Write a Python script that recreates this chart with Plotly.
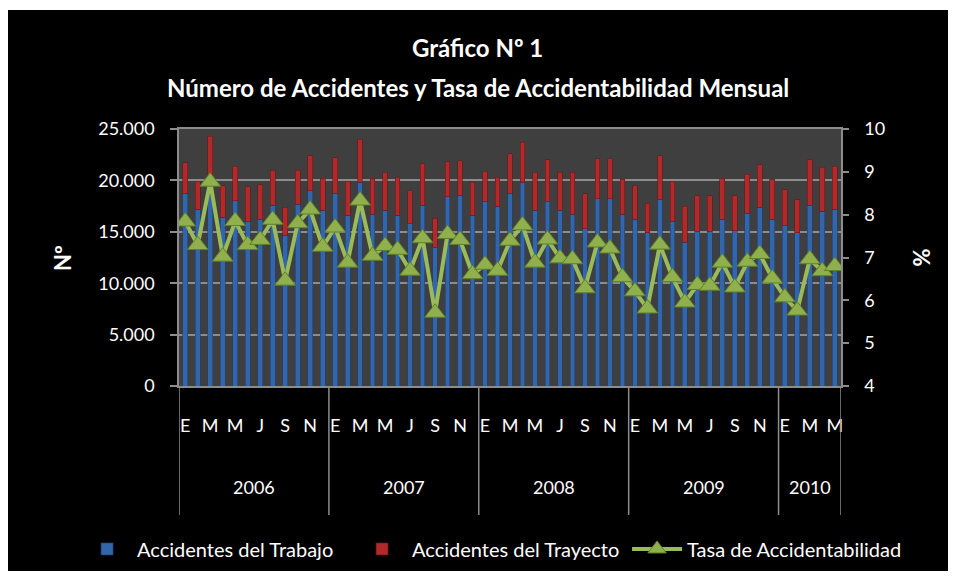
import plotly.graph_objects as go

# ---------------- data ----------------
years = ["2006", "2007", "2008", "2009", "2010"]
months_per_year = [12, 12, 12, 12, 5]
month_letters = ["E", "F", "M", "A", "M", "J", "J", "A", "S", "O", "N", "D"]

trabajo = [
    18700, 17200, 19900, 16400, 18000, 16000, 16200, 17600, 14600, 17700, 19000, 17100,  # 2006
    18700, 16600, 19800, 16700, 17100, 16600, 15800, 17600, 13500, 18400, 18500, 16600,  # 2007
    17900, 17500, 18700, 19800, 17100, 17900, 17100, 16700, 15300, 18200, 18200, 16700,  # 2008
    16200, 14900, 18100, 16000, 14000, 15000, 15000, 16200, 15100, 16800, 17400, 16200,  # 2009
    15600, 14900, 17600, 17000, 17200,                                                   # 2010
]
trayecto = [
    3000, 2700, 4400, 3100, 3400, 3400, 3400, 3400, 2800, 3300, 3400, 3100,
    3500, 3300, 4200, 3500, 3700, 3700, 3200, 4000, 2800, 3400, 3400, 3200,
    3000, 2800, 3900, 3900, 3700, 4100, 3700, 4100, 3400, 3900, 3900, 3400,
    3300, 2900, 4300, 3900, 3500, 3500, 3500, 4000, 3400, 3800, 4100, 3900,
    3500, 3200, 4400, 4300, 4200,
]
tasa = [
    7.84, 7.29, 8.77, 7.02, 7.85, 7.29, 7.41, 7.88, 6.46, 7.80, 8.12, 7.25,
    7.70, 6.88, 8.33, 7.04, 7.27, 7.18, 6.69, 7.45, 5.71, 7.55, 7.41, 6.61,
    6.83, 6.69, 7.39, 7.75, 6.88, 7.42, 6.98, 6.96, 6.28, 7.35, 7.21, 6.54,
    6.21, 5.81, 7.30, 6.54, 5.95, 6.36, 6.34, 6.88, 6.30, 6.90, 7.08, 6.51,
    6.07, 5.76, 6.96, 6.68, 6.80,
]

# ---------------- derived positions ----------------
idx = []
year_bounds = [-0.5]
year_centers = []
tickvals = []
ticktext = []
k = 0
for y, n in zip(years, months_per_year):
    start = k
    for m in range(n):
        idx.append(k)
        if m % 2 == 0:
            tickvals.append(k)
            ticktext.append(month_letters[m])
        k += 1
    year_bounds.append(k - 0.5)
    year_centers.append((start + k - 1) / 2)

FONT = "Lato"
WHITE = "#ffffff"
GRID = "#8c8c8c"

fig = go.Figure()
fig.add_trace(go.Bar(
    x=idx, y=trabajo, name="Accidentes del Trabajo",
    marker=dict(color="#3365ab", line=dict(color="#1f3f70", width=0.6)),
    yaxis="y",
))
fig.add_trace(go.Bar(
    x=idx, y=trayecto, name="Accidentes del Trayecto",
    marker=dict(color="#b0292b", line=dict(color="#6e1416", width=0.6)),
    yaxis="y",
))
fig.add_trace(go.Scatter(
    x=idx, y=tasa, name="Tasa de Accidentabilidad", mode="lines+markers",
    line=dict(color="#9bbb59", width=4),
    marker=dict(symbol="triangle-up", size=18, color="#8fb04c",
                line=dict(color="#5f7f2a", width=1)),
    yaxis="y2",
))

# background shapes (black chart area + grey plot area)
shapes = [
    dict(type="rect", xref="paper", yref="paper", x0=-0.27, x1=1.18, y0=-0.80, y1=1.463,
         fillcolor="#000000", line=dict(width=0), layer="below"),
    dict(type="rect", xref="paper", yref="paper", x0=0, x1=1, y0=0, y1=1,
         fillcolor="#3f3f3f", line=dict(width=0), layer="below"),
]
for b in year_bounds:
    shapes.append(dict(type="line", xref="x", yref="paper", x0=b, x1=b, y0=0, y1=-0.502,
                       line=dict(color=GRID, width=1.5)))

annotations = [
    dict(text="<b>Gráfico Nº 1</b>", xref="paper", yref="paper", x=0.451, y=1.319,
         showarrow=False, font=dict(family=FONT, size=24, color=WHITE), yanchor="middle"),
    dict(text="<b>Número de Accidentes y Tasa de Accidentabilidad Mensual</b>", xref="paper", yref="paper",
         x=0.451, y=1.163, showarrow=False, font=dict(family=FONT, size=24, color=WHITE), yanchor="middle"),
    dict(text="<b>Nº</b>", xref="paper", yref="paper", x=-0.176, y=0.5, textangle=-90,
         xanchor="center", yanchor="middle",
         showarrow=False, font=dict(family=FONT, size=22, color=WHITE)),
    dict(text="<b>%</b>", xref="paper", yref="paper", x=1.121, y=0.5, textangle=-90,
         xanchor="center", yanchor="middle",
         showarrow=False, font=dict(family=FONT, size=22, color=WHITE)),
]
for y, c in zip(years, year_centers):
    annotations.append(dict(text=y, xref="x", yref="paper", x=c, y=-0.393, yanchor="middle",
                            showarrow=False, font=dict(family=FONT, size=18, color=WHITE)))

fig.update_layout(
    width=940, height=563,
    margin=dict(l=171, r=107, t=121, b=185, autoexpand=False),
    paper_bgcolor="#ffffff",
    plot_bgcolor="rgba(0,0,0,0)",
    separators=",.",
    barmode="stack",
    bargap=0.62,
    font=dict(family=FONT, size=18, color=WHITE),
    showlegend=True,
    legend=dict(orientation="h", x=-0.154, xanchor="left", y=-0.634, yanchor="middle",
                font=dict(family=FONT, size=20, color=WHITE), bgcolor="rgba(0,0,0,0)",
                traceorder="normal", itemwidth=50, entrywidth=210),
    xaxis=dict(range=[-0.5, len(idx) - 0.5], tickmode="array", tickvals=tickvals, ticktext=ticktext,
               showgrid=False, zeroline=False, showline=True, linecolor=GRID, linewidth=1.5,
               mirror=True, ticks="", tickfont=dict(family=FONT, size=18, color=WHITE),
               ticklabelstandoff=23),
    yaxis=dict(range=[0, 25000], dtick=5000, tickformat=",.0f", showgrid=True, gridcolor=GRID,
               gridwidth=1.5, zeroline=False, showline=True, linecolor=GRID, linewidth=1.5,
               ticks="outside", ticklen=7, tickcolor=GRID, tickwidth=1.5,
               tickfont=dict(family=FONT, size=18, color=WHITE), ticklabelstandoff=12),
    yaxis2=dict(range=[4, 10], dtick=1, overlaying="y", side="right", showgrid=False, zeroline=False,
                showline=True, linecolor=GRID, linewidth=1.5, ticks="outside", ticklen=6,
                tickcolor=GRID, tickwidth=1.5, tickfont=dict(family=FONT, size=18, color=WHITE),
                ticklabelstandoff=12),
    shapes=shapes,
    annotations=annotations,
)

fig.write_html("out.html")
